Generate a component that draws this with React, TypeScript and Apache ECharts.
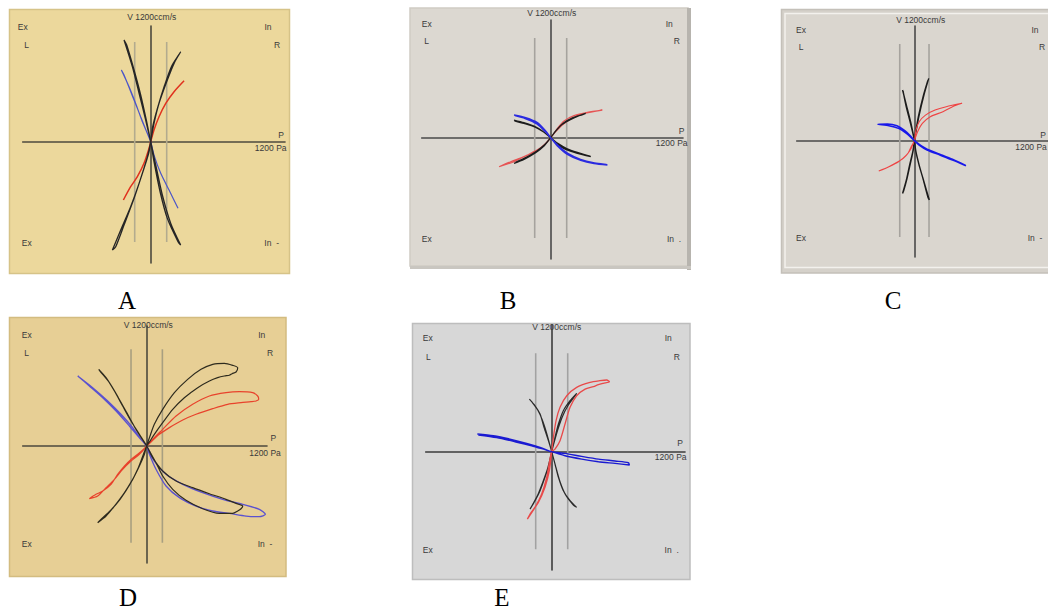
import React, { useEffect, useRef } from "react";
import * as echarts from "echarts";

// Rhinomanometry loops: each point is [pressure (Pa), flow (ccm/s)]
const REF_PRESSURE = 150;

// Panel A
const A_BLACK_DESC = [[0,0],[-47,220],[-109,492],[-172,763],[-250,1034],[-225,983],[-156,729],[-94,475],[-38,203],[0,0],[47,-237],[109,-542],[188,-831],[281,-1051],[256,-1017],[156,-780],[88,-509],[31,-203],[0,0]];
const A_BLACK_ASC = [[0,0],[31,186],[78,390],[156,627],[219,797],[281,915],[266,888],[194,763],[131,576],[63,339],[19,153],[0,0],[-31,-153],[-109,-424],[-188,-661],[-281,-898],[-359,-1102],[-328,-1068],[-250,-848],[-156,-576],[-78,-322],[-19,-119],[0,0]];
const A_BLUE = [[0,0],[-38,102],[-94,254],[-156,424],[-250,678],[-275,729],[-203,559],[-141,390],[-78,203],[-31,85],[0,0],[31,-136],[94,-322],[172,-492],[256,-678]];
const A_RED = [[-256,-593],[-188,-458],[-125,-356],[-63,-220],[-16,-68],[0,0],[31,119],[78,254],[141,390],[219,509],[313,620]];

// Panel B
const B_RED = [[-484,-295],[-375,-244],[-250,-193],[-125,-125],[-47,-58],[0,0],[47,61],[109,129],[203,197],[313,247],[484,281],[344,258],[219,224],[125,170],[63,95],[16,20],[-31,-41],[-94,-102],[-219,-176],[-344,-244],[-484,-295]];
const B_BLACK_ASC = [[-344,-261],[-250,-220],[-141,-153],[-63,-85],[0,0],[47,68],[109,136],[188,186],[266,224],[328,247],[300,235],[200,200],[120,150],[55,80],[0,0],[-55,-70],[-130,-135],[-230,-200],[-330,-250]];
const B_BLACK_DESC = [[-344,180],[-250,153],[-156,119],[-78,68],[0,0],[63,-68],[141,-119],[250,-159],[375,-193],[360,-185],[250,-150],[150,-110],[70,-60],[0,0],[-70,60],[-150,110],[-250,145],[-340,172]];
const B_BLUE = [[-344,231],[-234,203],[-125,153],[-47,68],[0,0],[63,-85],[156,-170],[281,-231],[406,-264],[531,-278],[520,-272],[400,-255],[280,-220],[160,-160],[70,-80],[0,0],[-50,60],[-130,140],[-240,195],[-335,224]];

// Panel C
const C_BLACK_DESC = [[-121,526],[-82,370],[-39,197],[-10,59],[0,0],[16,-114],[49,-253],[98,-426],[153,-616],[140,-590],[90,-400],[45,-240],[14,-105],[0,0],[-14,70],[-45,200],[-85,360],[-115,510]];
const C_BLACK_ASC = [[147,647],[98,474],[49,266],[16,93],[0,0],[-16,-114],[-49,-253],[-82,-408],[-121,-547],[-110,-520],[-75,-390],[-42,-240],[-12,-100],[0,0],[12,85],[42,255],[90,460],[138,625]];
const C_RED = [[-365,-315],[-261,-270],[-163,-218],[-82,-149],[-33,-80],[0,0],[33,93],[82,180],[163,249],[293,301],[391,353],[489,388],[326,353],[212,318],[114,266],[49,197],[16,111],[0,0],[-33,-62],[-65,-131],[-114,-183],[-196,-235],[-293,-287],[-365,-315]];
const C_BLUE = [[0,0],[-39,48],[-98,104],[-179,156],[-277,173],[-375,170],[-261,156],[-163,128],[-82,76],[-33,31],[0,0],[49,-45],[130,-97],[261,-149],[391,-201],[528,-260],[515,-252],[390,-193],[260,-140],[130,-88],[50,-38],[0,0]];

// Panel D
const D_BLACK_ASC = [[0,7],[26,84],[73,219],[153,371],[265,540],[392,675],[520,776],[632,827],[743,837],[823,817],[871,793],[855,749],[817,732],[791,716],[743,709],[679,692],[600,658],[488,591],[360,489],[249,371],[153,236],[73,118],[26,41],[0,0],[-22,-84],[-70,-203],[-134,-338],[-214,-473],[-309,-608],[-389,-709],[-469,-776],[-431,-736],[-351,-658],[-255,-540],[-160,-388],[-80,-219],[-26,-68],[0,0]];
const D_BLACK_DESC = [[0,0],[-38,61],[-112,186],[-191,338],[-271,489],[-357,641],[-440,749],[-459,776],[-389,692],[-309,557],[-230,405],[-150,253],[-70,118],[0,0],[57,-118],[153,-253],[281,-354],[440,-422],[600,-483],[759,-540],[855,-581],[919,-608],[903,-635],[871,-658],[823,-682],[695,-682],[536,-635],[376,-550],[249,-439],[153,-304],[89,-169],[32,-61],[0,0]];
const D_RED = [[0,0],[57,68],[153,169],[281,304],[440,422],[600,506],[759,540],[887,550],[1014,540],[1062,506],[1072,473],[1046,456],[998,449],[903,439],[775,422],[632,378],[472,321],[345,263],[217,186],[121,118],[41,41],[0,0],[-38,-41],[-86,-84],[-150,-135],[-214,-203],[-278,-287],[-341,-388],[-421,-456],[-485,-489],[-549,-533],[-469,-506],[-389,-422],[-309,-338],[-230,-236],[-150,-152],[-70,-84],[0,0]];
const D_BLUE = [[0,0],[-54,68],[-134,186],[-246,321],[-373,456],[-517,591],[-660,709],[-549,608],[-421,489],[-293,354],[-166,203],[-70,84],[0,0],[73,-152],[185,-287],[345,-388],[536,-473],[727,-540],[919,-591],[1078,-641],[1136,-692],[1078,-716],[951,-709],[791,-682],[632,-658],[472,-608],[313,-523],[185,-405],[89,-236],[26,-84],[0,0]];

// Panel E
const E_RED = [[0,0],[16,142],[41,307],[78,439],[141,554],[234,637],[359,686],[453,703],[516,710],[541,693],[484,677],[438,663],[391,644],[313,620],[234,554],[172,439],[125,274],[78,109],[31,26],[0,0],[-22,-106],[-47,-254],[-94,-419],[-156,-551],[-228,-667],[-203,-617],[-125,-502],[-63,-353],[-22,-188],[0,0]];
const E_BLACK_ASC = [[0,0],[31,142],[63,274],[109,406],[172,505],[234,578],[213,545],[156,462],[100,347],[56,215],[16,66],[0,0],[-22,-122],[-63,-254],[-109,-386],[-156,-485],[-203,-568],[-181,-528],[-131,-429],[-88,-314],[-38,-165],[0,0]];
const E_BLACK_DESC = [[0,0],[-47,182],[-88,314],[-131,413],[-188,495],[-209,521],[-156,455],[-109,373],[-72,241],[-31,109],[0,0],[31,-122],[63,-254],[109,-386],[172,-485],[234,-551],[203,-528],[131,-429],[78,-297],[38,-149],[0,0]];
const E_BLUE = [[-697,175],[-547,158],[-391,125],[-234,83],[-109,43],[0,0],[125,-40],[281,-73],[438,-99],[594,-116],[728,-132],[719,-109],[594,-92],[438,-73],[281,-46],[125,-17],[0,0],[-63,20],[-188,59],[-344,99],[-516,139],[-688,165]];

const PANEL_LETTERS = ["A", "B", "C", "D", "E"];

type Curve = { data: number[][]; color: string; width: number };
type Panel = {
  letter: string;
  letterPos: [number, number];
  box: { x: number; y: number; w: number; h: number; fill: string; stroke: string };
  extra?: any[];
  cx: number; cy: number;
  axL: number; axR: number; axT: number; axB: number;
  kx: number; ky: number;
  refTop: number; refBot: number;
  axisColor: string; refColor: string;
  curves: Curve[];
  labels: [string, number, number][];
  lowerRight: string;
};

const BLK = "#1c1c1c";

const PANELS: Panel[] = [
  {
    letter: PANEL_LETTERS[0], letterPos: [127, 300],
    box: { x: 9.5, y: 9.5, w: 280, h: 264, fill: "#ECD89C", stroke: "#D6C388" },
    cx: 150.7, cy: 141.7, axL: 22.7, axR: 285, axT: 26, axB: 263,
    kx: 0.10667, ky: 0.0983, refTop: 42, refBot: 242,
    axisColor: "#4d4a3e", refColor: "#b3ab8e",
    curves: [
      { data: A_BLUE, color: "#4b55c8", width: 1.2 },
      { data: A_RED, color: "#e0321e", width: 1.5 },
      { data: A_BLACK_DESC, color: "#262626", width: 1.3 },
      { data: A_BLACK_ASC, color: "#262626", width: 1.3 },
    ],
    labels: [["V 1200ccm/s", 151.7, 17], ["Ex", 22.7, 27], ["In", 268, 27], ["L", 26.7, 45], ["R", 277, 45], ["P", 281, 135], ["1200 Pa", 270.7, 147.7], ["Ex", 26.7, 242.7]],
    lowerRight: "In  -",
  },
  {
    letter: PANEL_LETTERS[1], letterPos: [508, 300],
    box: { x: 410, y: 8, w: 278, h: 258, fill: "#DCD8D1", stroke: "#CFCBC4" },
    extra: [{ x: 687, y: 8, w: 4, h: 262, fill: "#B7B4AE" }, { x: 410, y: 266, w: 281, h: 3, fill: "#C9C6C0" }],
    cx: 550.7, cy: 137.7, axL: 421.7, axR: 683, axT: 20, axB: 259,
    kx: 0.10667, ky: 0.0983, refTop: 38, refBot: 238,
    axisColor: "#4a4a4a", refColor: "#a6a39e",
    curves: [
      { data: B_RED, color: "#e65454", width: 1.2 },
      { data: B_BLACK_ASC, color: BLK, width: 1.3 },
      { data: B_BLACK_DESC, color: BLK, width: 1.3 },
      { data: B_BLUE, color: "#2b2be0", width: 1.4 },
    ],
    labels: [["V 1200ccm/s", 551.7, 13], ["Ex", 426.7, 24], ["In", 669.3, 24], ["L", 426.7, 41], ["R", 676.7, 41], ["P", 681.7, 131], ["1200 Pa", 671.7, 143], ["Ex", 426.7, 239]],
    lowerRight: "In  .",
  },
  {
    letter: PANEL_LETTERS[2], letterPos: [893, 300],
    box: { x: 781.5, y: 9.5, w: 300, h: 263.5, fill: "#D5D1CA", stroke: "#C4C0B9" },
    extra: [{ x: 785, y: 13.5, w: 300, h: 254, fill: "#DAD6CF", stroke: "#F3F1ED" }],
    cx: 920, cy: 140.7, axL: 796.7, axR: 1060, axT: 26, axB: 257,
    kx: 0.10225, ky: 0.0963, refTop: 44, refBot: 237,
    axisColor: "#4a4a4a", refColor: "#a6a39e",
    curves: [
      { data: C_BLACK_DESC, color: BLK, width: 1.4 },
      { data: C_BLACK_ASC, color: BLK, width: 1.4 },
      { data: C_RED, color: "#ee4444", width: 1.1 },
      { data: C_BLUE, color: "#1818ea", width: 1.5 },
    ],
    labels: [["V 1200ccm/s", 920.7, 20], ["Ex", 801, 30], ["In", 1035, 30], ["L", 801, 47], ["R", 1042, 47], ["P", 1043, 135], ["1200 Pa", 1031, 147], ["Ex", 801, 238]],
    lowerRight: "In  -",
  },
  {
    letter: PANEL_LETTERS[3], letterPos: [128, 597],
    box: { x: 9.5, y: 317.5, w: 276.5, h: 259, fill: "#E7CF95", stroke: "#D3BC80" },
    cx: 146.7, cy: 446, axL: 22.7, axR: 267, axT: 326, axB: 563,
    kx: 0.1045, ky: 0.09877, refTop: 349.3, refBot: 542.7,
    axisColor: "#4d4a3e", refColor: "#a89f80",
    curves: [
      { data: D_RED, color: "#e8432c", width: 1.2 },
      { data: D_BLUE, color: "#5b52cf", width: 1.3 },
      { data: D_BLACK_ASC, color: "#2e2b1e", width: 1.2 },
      { data: D_BLACK_DESC, color: "#2e2b1e", width: 1.2 },
    ],
    labels: [["V 1200ccm/s", 148.3, 325], ["Ex", 26.7, 335], ["In", 261.7, 335], ["L", 26.7, 353.3], ["R", 270, 353.3], ["P", 273.3, 438.3], ["1200 Pa", 265, 452.7], ["Ex", 26.7, 544.3]],
    lowerRight: "In  -",
  },
  {
    letter: PANEL_LETTERS[4], letterPos: [502, 597],
    box: { x: 412.5, y: 323.5, w: 277.5, h: 256, fill: "#D7D7D7", stroke: "#BDBDBD" },
    cx: 551.7, cy: 451.7, axL: 425.7, axR: 685, axT: 325, axB: 570,
    kx: 0.10667, ky: 0.10101, refTop: 353.3, refBot: 549.3,
    axisColor: "#3c3c3c", refColor: "#a2a2a2",
    curves: [
      { data: E_BLACK_ASC, color: "#2a2a2a", width: 1.2 },
      { data: E_BLACK_DESC, color: "#2a2a2a", width: 1.2 },
      { data: E_RED, color: "#e84a4a", width: 1.3 },
      { data: E_BLUE, color: "#1a1ad2", width: 1.4 },
    ],
    labels: [["V 1200ccm/s", 556.7, 326.7], ["Ex", 427.7, 338.3], ["In", 668.3, 338], ["L", 428.3, 356.7], ["R", 676.7, 356.7], ["P", 680, 443.3], ["1200 Pa", 670.7, 456.7], ["Ex", 427.7, 550]],
    lowerRight: "In  .",
  },
];

const LOWER_RIGHT_POS: [number, number][] = [[271.7, 243], [674, 239], [1035, 238], [265, 544], [671.7, 550]];

function buildOption() {
  const grid: any[] = [];
  const xAxis: any[] = [];
  const yAxis: any[] = [];
  const series: any[] = [];
  const graphic: any[] = [];

  PANELS.forEach((p, i) => {
    graphic.push({
      type: "rect", z: -10,
      shape: { x: p.box.x, y: p.box.y, width: p.box.w, height: p.box.h },
      style: { fill: p.box.fill, stroke: p.box.stroke, lineWidth: 1.5 },
    });
    (p.extra || []).forEach((r) => {
      graphic.push({
        type: "rect", z: -9,
        shape: { x: r.x, y: r.y, width: r.w, height: r.h },
        style: { fill: r.fill, stroke: r.stroke || null, lineWidth: 1.5 },
      });
    });

    grid.push({ left: p.axL, top: p.axT, width: p.axR - p.axL, height: p.axB - p.axT, show: false });
    const xmin = -(p.cx - p.axL) / p.kx;
    const xmax = (p.axR - p.cx) / p.kx;
    const ymax = (p.cy - p.axT) / p.ky;
    const ymin = -(p.axB - p.cy) / p.ky;
    const axisCommon = {
      type: "value",
      axisTick: { show: false },
      axisLabel: { show: false },
      splitLine: { show: false },
      axisLine: { show: true, onZero: true, lineStyle: { color: p.axisColor, width: 1.6 } },
    };
    xAxis.push({ ...axisCommon, gridIndex: i, min: xmin, max: xmax });
    yAxis.push({ ...axisCommon, gridIndex: i, min: ymin, max: ymax });

    const refTopV = (p.cy - p.refTop) / p.ky;
    const refBotV = (p.cy - p.refBot) / p.ky;
    [-REF_PRESSURE, REF_PRESSURE].forEach((pr) => {
      series.push({
        type: "line", xAxisIndex: i, yAxisIndex: i, silent: true,
        showSymbol: false, symbol: "none",
        lineStyle: { color: p.refColor, width: 1.6 },
        data: [[pr, refTopV], [pr, refBotV]],
        z: 1,
      });
    });

    p.curves.forEach((c) => {
      series.push({
        type: "line", xAxisIndex: i, yAxisIndex: i, silent: true,
        showSymbol: false, symbol: "none", smooth: 0.25,
        lineStyle: { color: c.color, width: c.width },
        data: c.data,
        z: 3,
      });
    });

    const textStyle = { fill: "#3a3a3a", fontSize: 8.5, fontFamily: "Liberation Sans, Arial, sans-serif", align: "center", verticalAlign: "middle" };
    p.labels.forEach(([t, x, y]) => {
      graphic.push({ type: "text", x, y, z: 20, style: { ...textStyle, text: t } });
    });
    const [lx, ly] = LOWER_RIGHT_POS[i];
    graphic.push({ type: "text", x: lx, y: ly, z: 20, style: { ...textStyle, text: p.lowerRight } });

    graphic.push({
      type: "text", x: p.letterPos[0], y: p.letterPos[1], z: 20,
      style: { text: p.letter, fill: "#000", fontSize: 25, fontFamily: "Liberation Serif, Times New Roman, serif", align: "center", verticalAlign: "middle" },
    });
  });

  return { animation: false, backgroundColor: "#ffffff", grid, xAxis, yAxis, series, graphic };
}

export default function App() {
  const ref = useRef<HTMLDivElement>(null);
  useEffect(() => {
    if (!ref.current) return;
    const chart = echarts.init(ref.current, undefined, { renderer: "svg" });
    chart.setOption(buildOption() as any);
    return () => chart.dispose();
  }, []);
  return (
    <div
      ref={ref}
      style={{ position: "fixed", left: 0, top: 0, width: 1048, height: 616, background: "#fff" }}
    />
  );
}
